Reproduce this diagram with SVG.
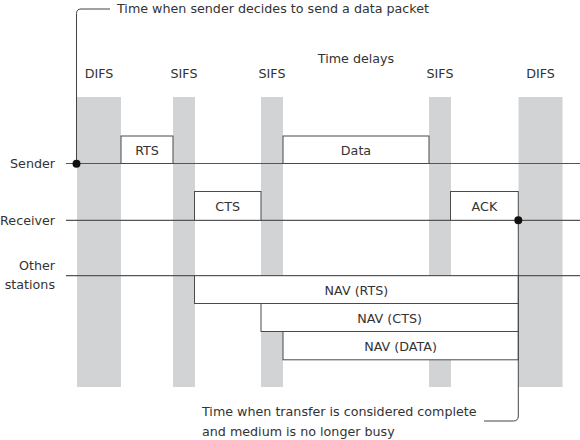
<svg xmlns="http://www.w3.org/2000/svg" width="580" height="440" viewBox="0 0 580 440">
<style>
text{font-family:"DejaVu Sans","Liberation Sans",sans-serif;font-size:12.7px;fill:#333}
.c{text-anchor:middle}
.r{text-anchor:end}
.bar{fill:#d2d3d5}
.box{fill:#fff;stroke:#4a4a4a;stroke-width:1}
.tl{stroke:#555;stroke-width:1.2;fill:none}
.con{stroke:#444;stroke-width:1;fill:none}
</style>
<rect width="580" height="440" fill="#fff"/>
<g id="delays">
<rect class="bar" x="77" y="97" width="44" height="290"/>
<rect class="bar" x="173" y="97" width="22" height="290"/>
<rect class="bar" x="261" y="97" width="22" height="290"/>
<rect class="bar" x="429" y="97" width="22" height="290"/>
<rect class="bar" x="518.5" y="97" width="44" height="290"/>
<text class="c" x="356" y="63">Time delays</text>
<text class="c" x="99" y="78">DIFS</text>
<text class="c" x="184" y="78">SIFS</text>
<text class="c" x="272" y="78">SIFS</text>
<text class="c" x="440" y="78">SIFS</text>
<text class="c" x="540.5" y="78">DIFS</text>
</g>
<g id="timelines">
<line class="tl" x1="66" y1="163.5" x2="580" y2="163.5"/>
<line class="tl" x1="66" y1="220.3" x2="580" y2="220.3"/>
<line class="tl" x1="66" y1="275.7" x2="580" y2="275.7"/>
<text class="r" x="55" y="168">Sender</text>
<text class="r" x="55" y="224.5">Receiver</text>
<text class="r" x="55" y="270">Other</text>
<text class="r" x="55" y="289">stations</text>
</g>
<g id="rts"><rect class="box" x="121" y="136" width="52" height="27.5"/><text class="c" x="147" y="154.5">RTS</text></g>
<g id="data"><rect class="box" x="283" y="136" width="146" height="27.5"/><text class="c" x="356" y="154.5">Data</text></g>
<g id="cts"><rect class="box" x="194.5" y="191.5" width="66.5" height="28.8"/><text class="c" x="227.7" y="210.5">CTS</text></g>
<g id="ack"><rect class="box" x="450.5" y="191.5" width="67.8" height="28.8"/><text class="c" x="484.4" y="210.5">ACK</text></g>
<g id="nav-rts"><rect class="box" x="194.5" y="275.7" width="323.8" height="27.8"/><text class="c" x="356.4" y="294.5">NAV (RTS)</text></g>
<g id="nav-cts"><rect class="box" x="261" y="303.5" width="257.3" height="28"/><text class="c" x="389.6" y="322.5">NAV (CTS)</text></g>
<g id="nav-data"><rect class="box" x="283" y="331.5" width="235.3" height="28.3"/><text class="c" x="400.6" y="350.5">NAV (DATA)</text></g>
<g id="connectors">
<path class="con" d="M110,9 H81 Q76.5,9 76.5,13.5 V164"/>
<circle cx="76.5" cy="163.7" r="4" fill="#111"/>
<path class="con" d="M518.3,220 V416 Q518.3,421 513.3,421 H484"/>
<circle cx="518.3" cy="220.3" r="4" fill="#111"/>
</g>
<g id="annotations">
<text x="117" y="13">Time when sender decides to send a data packet</text>
<text x="202" y="416">Time when transfer is considered complete</text>
<text x="202" y="436">and medium is no longer busy</text>
</g>
</svg>
